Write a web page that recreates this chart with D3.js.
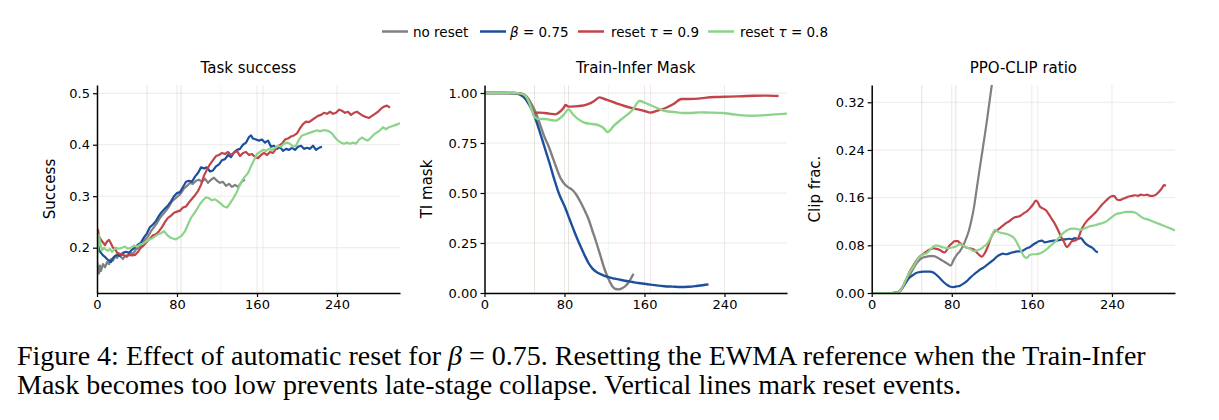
<!DOCTYPE html>
<html><head><meta charset="utf-8">
<script src="https://cdn.jsdelivr.net/npm/d3@7"></script>
<style>
html,body{margin:0;padding:0;background:#fff;}
svg{display:block;}
text{font-family:"DejaVu Sans",sans-serif;fill:#000;}
.cap{font-family:"Liberation Serif","Times New Roman",serif;}
</style></head>
<body><svg id="chart" width="1219" height="420"></svg>
<script>
// ---------------- data ----------------
const seriesNames = ["no reset", "β = 0.75", "reset τ = 0.9", "reset τ = 0.8"];
const xTicks = [0, 80, 160, 240];
const panelTitles = ["Task success", "Train-Infer Mask", "PPO-CLIP ratio"];
const yLabels = ["Success", "TI mask", "Clip frac."];
const yTicksSuccess = [0.2, 0.3, 0.4, 0.5];
const yTicksMask = [0.00, 0.25, 0.50, 0.75, 1.00];
const yTicksClip = [0.00, 0.08, 0.16, 0.24, 0.32];
const resetStepsTau09 = [50, 84, 166];
const resetStepsTau08 = [50, 84, 124];

// Task success
const successNoReset = [[0,0.175],[1,0.16],[2,0.15],[3,0.165],[4,0.155],[6,0.168],[8,0.162],[10,0.172],[12,0.168],[14,0.178],[16,0.175],[18,0.183],[20,0.18],[22,0.186],[24,0.182],[26,0.178],[28,0.184],[30,0.182],[33,0.19],[36,0.188],[39,0.197],[42,0.2],[45,0.208],[48,0.215],[51,0.222],[54,0.232],[57,0.24],[60,0.248],[63,0.258],[66,0.265],[69,0.272],[72,0.28],[75,0.29],[78,0.295],[81,0.3],[84,0.306],[87,0.315],[90,0.32],[93,0.326],[96,0.324],[99,0.33],[102,0.332],[105,0.328],[108,0.334],[111,0.326],[114,0.332],[117,0.336],[120,0.33],[123,0.326],[126,0.328],[129,0.32],[132,0.324],[135,0.318],[138,0.322],[141,0.318],[144,0.326],[146,0.33],[148,0.332]];
const successBeta = [[0,0.205],[1,0.21],[2,0.195],[4,0.19],[6,0.185],[8,0.182],[10,0.178],[12,0.175],[14,0.172],[16,0.18],[18,0.184],[20,0.186],[23,0.184],[26,0.19],[29,0.192],[32,0.19],[35,0.196],[38,0.2],[41,0.206],[44,0.21],[47,0.22],[50,0.228],[53,0.24],[56,0.245],[59,0.252],[62,0.262],[65,0.27],[68,0.276],[71,0.282],[74,0.29],[77,0.3],[80,0.306],[83,0.308],[86,0.318],[89,0.328],[92,0.33],[95,0.328],[98,0.338],[101,0.345],[104,0.356],[107,0.354],[110,0.356],[113,0.348],[116,0.35],[119,0.358],[122,0.362],[125,0.37],[128,0.372],[131,0.38],[134,0.376],[137,0.385],[140,0.39],[143,0.392],[146,0.4],[149,0.404],[152,0.415],[154,0.418],[156,0.412],[159,0.41],[162,0.408],[165,0.41],[168,0.404],[171,0.408],[174,0.396],[177,0.398],[180,0.392],[183,0.396],[186,0.388],[189,0.392],[192,0.39],[195,0.394],[198,0.39],[201,0.396],[204,0.398],[207,0.392],[210,0.394],[213,0.392],[216,0.398],[219,0.39],[222,0.394],[225,0.396]];
const successTau09 = [[0,0.23],[1,0.235],[2,0.222],[4,0.215],[6,0.21],[8,0.205],[10,0.212],[12,0.215],[14,0.208],[16,0.2],[18,0.198],[20,0.19],[23,0.188],[26,0.186],[29,0.184],[32,0.186],[35,0.185],[38,0.186],[41,0.192],[44,0.2],[47,0.205],[50,0.212],[53,0.218],[56,0.224],[59,0.226],[62,0.232],[65,0.24],[68,0.25],[71,0.258],[74,0.262],[77,0.268],[80,0.27],[83,0.272],[86,0.278],[89,0.28],[92,0.288],[95,0.295],[98,0.302],[101,0.31],[104,0.322],[107,0.34],[110,0.352],[113,0.362],[116,0.37],[119,0.378],[122,0.38],[125,0.384],[128,0.382],[131,0.386],[134,0.38],[137,0.384],[140,0.388],[143,0.378],[146,0.384],[149,0.386],[152,0.38],[155,0.382],[158,0.376],[161,0.374],[164,0.38],[167,0.384],[170,0.38],[173,0.386],[176,0.384],[179,0.392],[182,0.398],[185,0.402],[188,0.41],[191,0.412],[194,0.416],[197,0.418],[200,0.422],[203,0.432],[206,0.44],[209,0.445],[212,0.444],[215,0.448],[218,0.452],[221,0.456],[224,0.458],[227,0.462],[230,0.46],[233,0.464],[236,0.46],[239,0.462],[242,0.468],[245,0.466],[248,0.462],[251,0.464],[254,0.458],[257,0.462],[260,0.464],[263,0.46],[266,0.456],[269,0.454],[272,0.452],[275,0.456],[278,0.46],[281,0.464],[284,0.47],[287,0.474],[290,0.476],[293,0.472]];
const successTau08 = [[0,0.175],[1,0.2],[2,0.225],[3,0.21],[5,0.195],[7,0.2],[9,0.196],[11,0.194],[13,0.198],[15,0.192],[17,0.196],[19,0.2],[22,0.198],[25,0.2],[28,0.202],[31,0.198],[34,0.2],[37,0.204],[40,0.202],[43,0.206],[46,0.208],[49,0.212],[52,0.216],[55,0.218],[58,0.222],[61,0.226],[64,0.228],[67,0.232],[70,0.225],[73,0.22],[76,0.218],[79,0.216],[82,0.22],[85,0.224],[88,0.232],[91,0.245],[94,0.258],[97,0.266],[100,0.275],[103,0.285],[106,0.292],[109,0.298],[112,0.296],[115,0.292],[118,0.294],[121,0.29],[124,0.285],[127,0.28],[130,0.278],[133,0.286],[136,0.295],[139,0.305],[142,0.318],[145,0.33],[148,0.338],[151,0.345],[154,0.358],[157,0.37],[160,0.382],[163,0.386],[166,0.39],[169,0.388],[172,0.392],[175,0.39],[178,0.394],[181,0.398],[184,0.396],[187,0.402],[190,0.404],[193,0.402],[196,0.396],[199,0.398],[202,0.41],[205,0.418],[208,0.42],[211,0.422],[214,0.424],[217,0.426],[220,0.428],[223,0.426],[226,0.428],[229,0.428],[232,0.426],[235,0.422],[238,0.414],[241,0.408],[244,0.404],[247,0.402],[250,0.404],[253,0.402],[256,0.404],[259,0.402],[262,0.41],[265,0.414],[268,0.41],[271,0.408],[274,0.414],[277,0.42],[280,0.424],[283,0.428],[286,0.434],[289,0.43],[292,0.434],[295,0.436],[298,0.438],[301,0.44],[303,0.442]];

// Train-Infer mask
const maskNoReset = [[0,1],[10,1],[20,1],[30,1],[35,0.998],[38,0.995],[41,0.988],[44,0.97],[47,0.945],[51,0.905],[55,0.85],[60,0.78],[64,0.735],[68,0.68],[72,0.625],[76,0.575],[80,0.545],[84,0.528],[88,0.515],[92,0.49],[96,0.455],[100,0.415],[104,0.37],[108,0.31],[112,0.25],[116,0.185],[120,0.12],[124,0.07],[128,0.033],[131,0.02],[134,0.018],[137,0.022],[141,0.035],[145,0.06],[149,0.096]];
const maskBeta = [[0,1],[10,1],[20,1],[30,0.998],[34,0.995],[37,0.988],[40,0.975],[43,0.955],[46,0.93],[50,0.885],[55,0.81],[60,0.73],[65,0.65],[70,0.565],[75,0.49],[80,0.435],[85,0.37],[90,0.305],[95,0.245],[100,0.19],[104,0.15],[108,0.122],[112,0.105],[116,0.094],[120,0.086],[124,0.079],[130,0.072],[136,0.066],[142,0.06],[148,0.055],[154,0.05],[160,0.046],[166,0.042],[172,0.038],[180,0.034],[188,0.032],[196,0.03],[204,0.031],[212,0.035],[218,0.039],[224,0.043]];
const maskTau09 = [[0,1],[10,1],[20,1],[30,1],[35,0.998],[40,0.99],[44,0.96],[47,0.925],[50,0.9],[55,0.902],[60,0.9],[65,0.897],[71,0.893],[75,0.905],[79,0.925],[81,0.94],[84,0.932],[90,0.933],[97,0.936],[102,0.942],[107,0.952],[111,0.965],[115,0.978],[120,0.97],[131,0.95],[140,0.935],[150,0.922],[160,0.91],[166,0.902],[173,0.912],[181,0.925],[189,0.945],[197,0.97],[205,0.97],[214,0.972],[222,0.977],[231,0.98],[245,0.982],[258,0.984],[270,0.986],[282,0.987],[294,0.985]];
const maskTau08 = [[0,1],[10,1],[20,1],[30,1],[35,0.998],[40,0.99],[44,0.96],[47,0.92],[50,0.88],[54,0.87],[61,0.87],[67,0.864],[71,0.862],[75,0.872],[79,0.89],[84,0.918],[89,0.89],[94,0.868],[101,0.85],[108,0.845],[115,0.837],[119,0.825],[123,0.805],[130,0.84],[138,0.873],[148,0.915],[155,0.96],[161,0.95],[168,0.935],[175,0.92],[181,0.91],[190,0.905],[198,0.9],[205,0.9],[215,0.903],[225,0.902],[238,0.9],[248,0.894],[258,0.888],[268,0.886],[278,0.888],[290,0.893],[303,0.897]];

// PPO-CLIP ratio
const clipNoReset = [[0,0],[10,0],[20,0],[26,0.001],[29,0.004],[32,0.012],[35,0.02],[38,0.03],[42,0.042],[45,0.05],[48,0.056],[52,0.06],[55,0.061],[58,0.062],[62,0.062],[65,0.06],[68,0.057],[72,0.053],[75,0.05],[79,0.046],[82,0.056],[85,0.064],[88,0.07],[91,0.078],[94,0.09],[97,0.104],[100,0.125],[102,0.142],[105,0.176],[108,0.21],[110,0.232],[113,0.265],[115,0.288],[118,0.325],[120,0.349],[123,0.385]];
const clipBeta = [[0,0],[10,0],[20,0],[26,0.001],[29,0.005],[32,0.012],[35,0.02],[38,0.026],[42,0.031],[45,0.034],[48,0.035],[52,0.036],[55,0.036],[58,0.036],[62,0.034],[65,0.03],[68,0.025],[72,0.018],[75,0.014],[78,0.011],[82,0.01],[85,0.011],[88,0.012],[92,0.016],[95,0.02],[98,0.025],[102,0.031],[105,0.035],[108,0.039],[111,0.042],[115,0.047],[118,0.051],[122,0.056],[125,0.061],[128,0.064],[131,0.066],[134,0.065],[137,0.066],[140,0.068],[143,0.069],[146,0.07],[149,0.07],[152,0.072],[155,0.075],[158,0.077],[161,0.081],[164,0.084],[167,0.087],[170,0.088],[173,0.085],[176,0.086],[179,0.087],[182,0.088],[185,0.088],[188,0.089],[191,0.09],[194,0.09],[197,0.091],[200,0.09],[203,0.092],[206,0.091],[209,0.092],[212,0.086],[215,0.081],[218,0.078],[221,0.075],[224,0.07],[226,0.068]];
const clipTau09 = [[0,0],[10,0],[20,0],[26,0.001],[29,0.005],[32,0.014],[35,0.025],[38,0.036],[42,0.047],[45,0.055],[48,0.061],[52,0.066],[55,0.07],[58,0.073],[62,0.075],[65,0.074],[68,0.072],[71,0.069],[73,0.068],[75,0.072],[77,0.078],[80,0.083],[83,0.087],[86,0.087],[88,0.084],[91,0.08],[95,0.076],[98,0.075],[102,0.073],[105,0.068],[108,0.063],[110,0.061],[113,0.067],[116,0.078],[119,0.092],[122,0.102],[125,0.105],[128,0.109],[131,0.113],[134,0.117],[137,0.12],[140,0.124],[143,0.127],[146,0.128],[149,0.13],[152,0.134],[155,0.137],[158,0.142],[161,0.148],[164,0.155],[166,0.152],[168,0.145],[171,0.142],[174,0.139],[177,0.132],[180,0.124],[183,0.116],[186,0.106],[189,0.095],[192,0.086],[195,0.077],[197,0.08],[200,0.087],[203,0.088],[206,0.091],[209,0.104],[212,0.114],[215,0.121],[218,0.126],[221,0.131],[224,0.136],[227,0.142],[230,0.148],[233,0.153],[236,0.158],[239,0.162],[242,0.163],[245,0.157],[248,0.156],[251,0.158],[254,0.16],[257,0.162],[260,0.163],[263,0.164],[266,0.163],[269,0.165],[272,0.164],[275,0.165],[278,0.163],[281,0.163],[284,0.165],[287,0.17],[290,0.176],[292,0.181],[294,0.18]];
const clipTau08 = [[0,0],[10,0],[20,0],[26,0.001],[29,0.005],[32,0.014],[35,0.025],[38,0.035],[42,0.045],[45,0.054],[48,0.061],[52,0.065],[55,0.067],[58,0.072],[61,0.077],[64,0.08],[67,0.079],[70,0.077],[73,0.076],[76,0.075],[79,0.076],[82,0.077],[85,0.079],[88,0.082],[91,0.08],[94,0.077],[97,0.075],[100,0.072],[103,0.07],[106,0.072],[109,0.074],[112,0.078],[115,0.082],[118,0.09],[121,0.1],[123,0.106],[126,0.103],[129,0.101],[132,0.1],[135,0.099],[138,0.097],[141,0.094],[144,0.088],[147,0.078],[150,0.068],[153,0.06],[155,0.059],[158,0.064],[161,0.065],[164,0.065],[167,0.066],[170,0.068],[173,0.071],[176,0.075],[179,0.08],[182,0.084],[185,0.089],[188,0.095],[191,0.1],[194,0.104],[197,0.107],[200,0.108],[203,0.108],[206,0.107],[209,0.106],[212,0.108],[215,0.11],[218,0.112],[221,0.113],[224,0.114],[227,0.116],[230,0.117],[233,0.119],[236,0.122],[239,0.126],[242,0.13],[245,0.133],[248,0.134],[251,0.135],[254,0.136],[257,0.136],[260,0.136],[263,0.135],[266,0.132],[269,0.128],[272,0.125],[275,0.124],[278,0.122],[281,0.12],[284,0.118],[287,0.116],[290,0.114],[293,0.112],[296,0.11],[299,0.108],[303,0.105]];

// ---------------- style / layout ----------------
const colors = ["#808080", "#1c4f9c", "#c1444a", "#8dd389"];
const svg = d3.select("#chart");
const plotTop = 85, plotBottom = 293;

const panels = [
  {x0: 97, x1: 400, xDom: [0, 303], yDom: [0.112, 0.516], yTicks: yTicksSuccess, fmt: d3.format(".1f"),
   series: [successNoReset, successBeta, successTau09, successTau08], curve: d3.curveLinear, lw: 2.2, ylx: 50},
  {x0: 484.5, x1: 787, xDom: [0, 302.5], yDom: [0, 1.04], yTicks: yTicksMask, fmt: d3.format(".2f"),
   series: [maskNoReset, maskBeta, maskTau09, maskTau08], curve: d3.curveMonotoneX, lw: 2.4, ylx: 427},
  {x0: 871.7, x1: 1175, xDom: [0, 303], yDom: [0, 0.349], yTicks: yTicksClip, fmt: d3.format(".2f"),
   series: [clipNoReset, clipBeta, clipTau09, clipTau08], curve: d3.curveMonotoneX, lw: 2.2, ylx: 815}
];

panels.forEach((p, i) => {
  const x = d3.scaleLinear().domain(p.xDom).range([p.x0, p.x1]);
  const y = d3.scaleLinear().domain(p.yDom).range([plotBottom, plotTop]);
  const g = svg.append("g");
  const clipId = "clip" + i;
  svg.append("clipPath").attr("id", clipId).append("rect")
    .attr("x", p.x0).attr("y", plotTop).attr("width", p.x1 - p.x0).attr("height", plotBottom - plotTop);

  // grid
  g.selectAll(null).data(p.yTicks).join("line")
    .attr("x1", p.x0).attr("x2", p.x1).attr("y1", d => y(d)).attr("y2", d => y(d))
    .attr("stroke", "#e8e8e8").attr("stroke-width", 0.9);
  g.selectAll(null).data(xTicks.filter(d => d > 0)).join("line")
    .attr("x1", d => x(d)).attr("x2", d => x(d)).attr("y1", plotTop).attr("y2", plotBottom)
    .attr("stroke", "#e8e8e8").attr("stroke-width", 0.9);
  // reset markers
  [[resetStepsTau09, colors[2]], [resetStepsTau08, colors[3]]].forEach(([steps, c]) => {
    g.selectAll(null).data(steps).join("line")
      .attr("x1", d => x(d)).attr("x2", d => x(d)).attr("y1", plotTop).attr("y2", plotBottom)
      .attr("stroke", c).attr("stroke-opacity", 0.13).attr("stroke-width", 1);
  });

  // lines
  const line = d3.line().x(d => x(d[0])).y(d => y(d[1])).curve(p.curve);
  const lg = g.append("g").attr("clip-path", `url(#${clipId})`);
  p.series.forEach((s, k) => {
    lg.append("path").datum(s).attr("d", line).attr("fill", "none")
      .attr("stroke", colors[k]).attr("stroke-width", p.lw)
      .attr("stroke-linejoin", "round").attr("stroke-linecap", "butt");
  });

  // axes
  const ax = g.append("g").attr("transform", `translate(0,${plotBottom})`)
    .call(d3.axisBottom(x).tickValues(xTicks).tickSize(4).tickSizeOuter(0).tickPadding(3));
  const ay = g.append("g").attr("transform", `translate(${p.x0},0)`)
    .call(d3.axisLeft(y).tickValues(p.yTicks).tickFormat(p.fmt).tickSize(4).tickSizeOuter(0).tickPadding(3));
  [ax, ay].forEach(a => {
    a.select(".domain").attr("stroke", "#000").attr("stroke-width", 1.5);
    a.selectAll(".tick line").attr("stroke", "#000").attr("stroke-width", 1.2);
    a.selectAll(".tick text").attr("font-size", 13).attr("font-family", "DejaVu Sans").attr("fill", "#000");
  });

  // title
  g.append("text").attr("x", (p.x0 + p.x1) / 2).attr("y", 73).attr("text-anchor", "middle")
    .attr("font-size", 15).text(panelTitles[i]);
  // y label
  g.append("text").attr("transform", `translate(${p.ylx},${(plotTop + plotBottom) / 2}) rotate(-90)`)
    .attr("text-anchor", "middle").attr("dominant-baseline", "central")
    .attr("font-size", 15).text(yLabels[i]);
});

// legend
const legendPos = [[382, 413], [480, 510], [578, 611], [708, 740]];
const lgd = svg.append("g");
seriesNames.forEach((name, k) => {
  const [lx, tx] = legendPos[k];
  lgd.append("line").attr("x1", lx).attr("x2", lx + 26).attr("y1", 31.5).attr("y2", 31.5)
    .attr("stroke", colors[k]).attr("stroke-width", 2.5);
  const t = lgd.append("text").attr("x", tx).attr("y", 36.5).attr("font-size", 13.5);
  const m = name.match(/^(.*?)([βτ])(.*)$/);
  if (m) {
    if (m[1]) t.append("tspan").text(m[1]);
    t.append("tspan").attr("font-style", "italic").text(m[2]);
    t.append("tspan").text(m[3]);
  } else t.text(name);
});

// caption
const cap1 = svg.append("text").attr("class", "cap").attr("x", 17).attr("y", 365).attr("font-size", 28);
cap1.append("tspan").text("Figure 4: Effect of automatic reset for ");
cap1.append("tspan").attr("font-style", "italic").text("β");
cap1.append("tspan").text(" = 0.75. Resetting the EWMA reference when the Train-Infer");
svg.append("text").attr("class", "cap").attr("x", 17).attr("y", 394).attr("font-size", 28)
  .text("Mask becomes too low prevents late-stage collapse. Vertical lines mark reset events.");
</script></body></html>
